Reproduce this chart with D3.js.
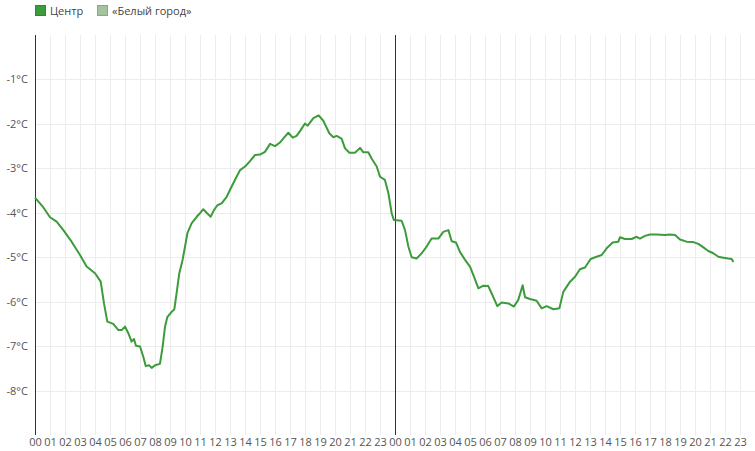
<!DOCTYPE html>
<html>
<head>
<meta charset="utf-8">
<script src="https://cdn.jsdelivr.net/npm/d3@7"></script>
<style>
  body { margin: 0; background: #fff; }
  text { font-family: "Open Sans", sans-serif; }
</style>
</head>
<body>
<div id="chart-area"></div>
<script>
// series names for the legend
var seriesNames = ["Центр", "«Белый город»"];
var seriesColors = ["#3c9c3c", "#a2c39c"];

// hours since the start of the first day
var hours = [0, 0.56, 1.0, 1.44, 1.89, 2.44, 3.0, 3.44, 4.0, 4.38, 4.6, 4.82, 5.22, 5.56, 5.78, 6.0,
  6.22, 6.44, 6.6, 6.73, 7.0, 7.22, 7.38, 7.6, 7.78, 8.0, 8.33, 8.51, 8.67, 8.82, 9.11, 9.29,
  9.44, 9.62, 9.84, 10.0, 10.16, 10.44, 10.78, 11.0, 11.22, 11.44, 11.71, 11.93, 12.16, 12.44,
  12.78, 13.11, 13.44, 13.67, 14.0, 14.33, 14.67, 15.0, 15.33, 15.67, 16.0, 16.33, 16.6, 16.89,
  17.18, 17.44, 17.71, 18.0, 18.18, 18.56, 18.91, 19.22, 19.62, 19.89, 20.11, 20.44, 20.67,
  20.96, 21.33, 21.67, 21.89, 22.22, 22.44, 22.78, 23.0, 23.33, 23.56, 23.78, 23.92,
  24.44, 24.67, 24.89, 25.11, 25.44, 25.78, 26.11, 26.44, 26.89, 27.22, 27.56, 27.78, 28.07,
  28.33, 28.67, 29.0, 29.27, 29.56, 29.89, 30.22, 30.44, 30.82, 31.11, 31.56, 31.93, 32.22,
  32.51, 32.67, 33.0, 33.44, 33.78, 34.11, 34.56, 34.96, 35.22, 35.67, 36.0, 36.33, 36.67,
  37.04, 37.44, 37.78, 38.11, 38.51, 38.89, 39.0, 39.33, 39.78, 40.11, 40.33, 40.67, 41.0,
  41.44, 42.0, 42.33, 42.67, 43.0, 43.44, 43.89, 44.22, 44.56, 44.89, 45.22, 45.56, 45.89,
  46.22, 46.44, 46.56];

// temperature, °C ("Центр")
var temps = [-3.66, -3.88, -4.10, -4.20, -4.39, -4.65, -4.95, -5.21, -5.36, -5.55, -6.04, -6.45,
  -6.50, -6.64, -6.64, -6.56, -6.71, -6.90, -6.84, -6.99, -7.01, -7.24, -7.45, -7.43, -7.49,
  -7.43, -7.40, -7.01, -6.56, -6.35, -6.23, -6.17, -5.81, -5.36, -5.06, -4.76, -4.46, -4.24,
  -4.09, -4.01, -3.92, -4.00, -4.09, -3.94, -3.83, -3.79, -3.64, -3.41, -3.19, -3.04, -2.96,
  -2.84, -2.70, -2.69, -2.63, -2.45, -2.50, -2.42, -2.31, -2.20, -2.31, -2.27, -2.14, -1.99,
  -2.04, -1.87, -1.81, -1.93, -2.21, -2.30, -2.27, -2.33, -2.55, -2.65, -2.65, -2.54, -2.64,
  -2.64, -2.78, -2.96, -3.19, -3.26, -3.56, -4.01, -4.16,
  -4.18, -4.39, -4.76, -5.00, -5.03, -4.91, -4.76, -4.58, -4.58, -4.43, -4.39, -4.64, -4.67,
  -4.88, -5.06, -5.21, -5.44, -5.70, -5.64, -5.65, -5.81, -6.10, -6.02, -6.04, -6.11, -5.96,
  -5.63, -5.90, -5.94, -5.98, -6.15, -6.10, -6.17, -6.15, -5.78, -5.55, -5.44, -5.27, -5.23,
  -5.04, -4.99, -4.95, -4.80, -4.67, -4.65, -4.55, -4.59, -4.59, -4.54, -4.58, -4.52, -4.49,
  -4.49, -4.50, -4.49, -4.50, -4.60, -4.65, -4.66, -4.70, -4.78, -4.86, -4.91, -4.99, -5.01,
  -5.03, -5.04, -5.11];

// tick values
var yTicks = [-1, -2, -3, -4, -5, -6, -7, -8];
var xTicks = d3.range(0, 48);

var width = 755, height = 451;
var plotLeft = 35, plotRight = 755, plotTop = 35, plotBottom = 435;

var svg = d3.select("#chart-area")
  .append("svg")
  .attr("width", width)
  .attr("height", height);

var x = d3.scaleLinear()
  .domain([0, 48])
  .range([plotLeft, plotRight]);

var y = d3.scaleLinear()
  .domain([-9, 0])
  .range([plotBottom, plotTop]);

// grid
svg.append("g")
  .selectAll("line")
  .data(xTicks.slice(1))
  .enter()
  .append("line")
  .attr("x1", d => x(d) + 0.5)
  .attr("x2", d => x(d) + 0.5)
  .attr("y1", plotTop)
  .attr("y2", plotBottom)
  .attr("stroke", "#ececec");

svg.append("g")
  .selectAll("line")
  .data(yTicks)
  .enter()
  .append("line")
  .attr("x1", plotLeft)
  .attr("x2", plotRight)
  .attr("y1", d => Math.round(y(d)) + 0.5)
  .attr("y2", d => Math.round(y(d)) + 0.5)
  .attr("stroke", "#ececec");

// y axis labels
var yAxis = d3.axisLeft(y)
  .tickValues(yTicks)
  .tickSize(0)
  .tickPadding(7)
  .tickFormat(d => d + "°C");

svg.append("g")
  .attr("transform", "translate(" + plotLeft + ",0)")
  .call(yAxis)
  .call(g => g.select(".domain").remove())
  .selectAll("text")
  .attr("font-family", "'Open Sans', sans-serif")
  .attr("font-size", 11)
  .attr("fill", "#555");

// x axis labels
var xAxis = d3.axisBottom(x)
  .tickValues(xTicks)
  .tickSize(0)
  .tickPadding(3)
  .tickFormat(d => String(d % 24).padStart(2, "0"));

svg.append("g")
  .attr("transform", "translate(0," + plotBottom + ")")
  .call(xAxis)
  .call(g => g.select(".domain").remove())
  .selectAll("text")
  .attr("font-family", "'Open Sans', sans-serif")
  .attr("font-size", 11)
  .attr("fill", "#555");

// left axis line and midnight line
svg.append("g")
  .selectAll("line")
  .data([0, 24])
  .enter()
  .append("line")
  .attr("x1", d => x(d) + 0.5)
  .attr("x2", d => x(d) + 0.5)
  .attr("y1", plotTop)
  .attr("y2", plotBottom)
  .attr("stroke", "#333");

// the temperature line
var line = d3.line()
  .x((d, i) => x(hours[i]))
  .y(d => y(d));

svg.append("path")
  .datum(temps)
  .attr("d", line)
  .attr("fill", "none")
  .attr("stroke", seriesColors[0])
  .attr("stroke-width", 2)
  .attr("stroke-linejoin", "round");

// legend
var legend = svg.append("g")
  .selectAll("g")
  .data(seriesNames)
  .enter()
  .append("g")
  .attr("transform", (d, i) => "translate(" + (i === 0 ? 35 : 97) + ",5)");

legend.append("rect")
  .attr("x", 0.5)
  .attr("y", 0.5)
  .attr("width", 10)
  .attr("height", 10)
  .attr("fill", (d, i) => seriesColors[i])
  .attr("stroke", (d, i) => i === 0 ? "#2f8a2f" : "#8aa884");

legend.append("text")
  .attr("x", 15)
  .attr("y", 10)
  .attr("font-size", 11)
  .attr("fill", "#444")
  .text(d => d);
</script>
</body>
</html>
